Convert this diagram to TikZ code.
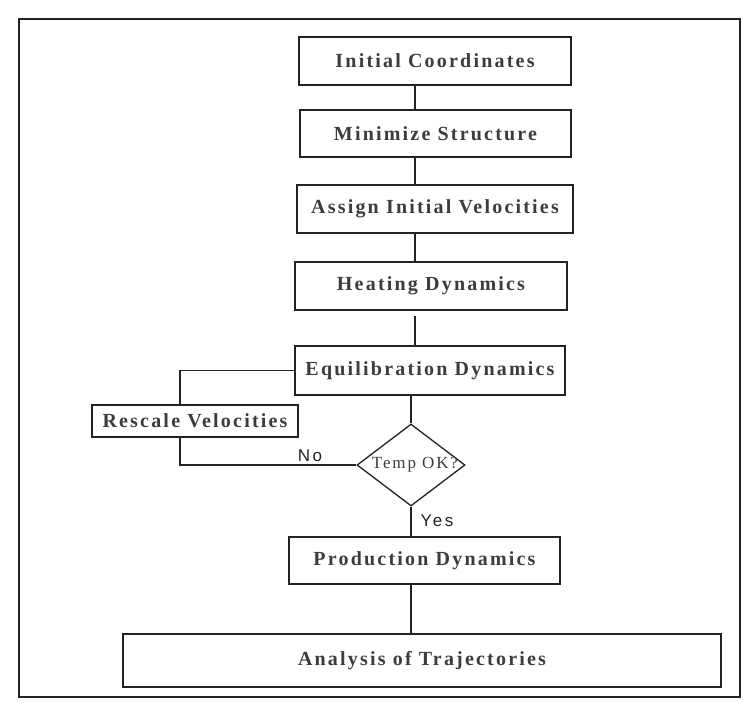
\documentclass[tikz,border=0pt]{standalone}
\usepackage{fontspec}
\usetikzlibrary{shapes.geometric}
\newfontfamily\boxfont[LetterSpace=11]{Liberation Serif}
\newfontfamily\lblfont[LetterSpace=15]{Liberation Sans}
\definecolor{ink}{HTML}{222222}
\definecolor{txt}{HTML}{3C3C3C}
\begin{document}
\begin{tikzpicture}[x=1pt,y=-1pt,
  box/.style={draw=ink, line width=1.3pt, rectangle, inner sep=0pt,
    font=\boxfont\bfseries\fontsize{20}{24}\selectfont, text=txt},
  conn/.style={draw=ink, line width=1.3pt},
  lbl/.style={font=\lblfont\fontsize{17}{20}\selectfont, text=ink}]
\useasboundingbox (0,0) rectangle (744,702);
\draw[ink, line width=2.5pt] (19,19) rectangle (740,697);

\node[box, minimum width=272pt, minimum height=48pt] (ic) at (435,61) {Initial Coordinates};
\node[box, minimum width=271pt, minimum height=47pt] (ms) at (435.5,133.5) {Minimize Structure};
\node[box, minimum width=276pt, minimum height=48pt] (ai) at (435,209) {Assign Initial Velocities};
\node[box, minimum width=272pt, minimum height=48pt] (hd) at (431,286) {Heating Dynamics};
\node[box, minimum width=270pt, minimum height=49pt] (eq) at (430,370.5) {Equilibration Dynamics};
\node[box, minimum width=206pt, minimum height=32pt] (rs) at (195,421) {Rescale Velocities};
\node[diamond, draw=ink, line width=1.3pt, minimum width=108pt, minimum height=82pt, inner sep=0pt,
  label={[font=\boxfont\fontsize{17}{20}\selectfont, text=txt, xshift=4pt]center:Temp OK?}] (dia) at (411,465) {};
\node[box, minimum width=271pt, minimum height=47pt] (pd) at (424.5,560.5) {Production Dynamics};
\node[box, minimum width=598pt, minimum height=53pt] (an) at (422,660.5) {Analysis of Trajectories};

\coordinate (spine) at (415,0);
\coordinate (loopx) at (180,0);

\draw[conn] (ic.south -| spine) -- (ms.north -| spine);
\draw[conn] (ms.south -| spine) -- (ai.north -| spine);
\draw[conn] (ai.south -| spine) -- (hd.north -| spine);
\draw[conn, shorten <=5pt] (hd.south -| spine) -- (eq.north -| spine);
\draw[conn] (eq.south -| dia.north) -- (dia.north);
\draw[conn] (dia.south) -- (pd.north -| dia.south);
\draw[conn] (pd.south -| dia.south) -- (an.north -| dia.south);
\draw[conn] (eq.west) -| (rs.north -| loopx);
\draw[conn] (rs.south -| loopx) |- (dia.west);

\node[lbl] (no) at (310,456) {No};
\node[lbl] (yes) at (437,521) {Yes};
\end{tikzpicture}
\end{document}
